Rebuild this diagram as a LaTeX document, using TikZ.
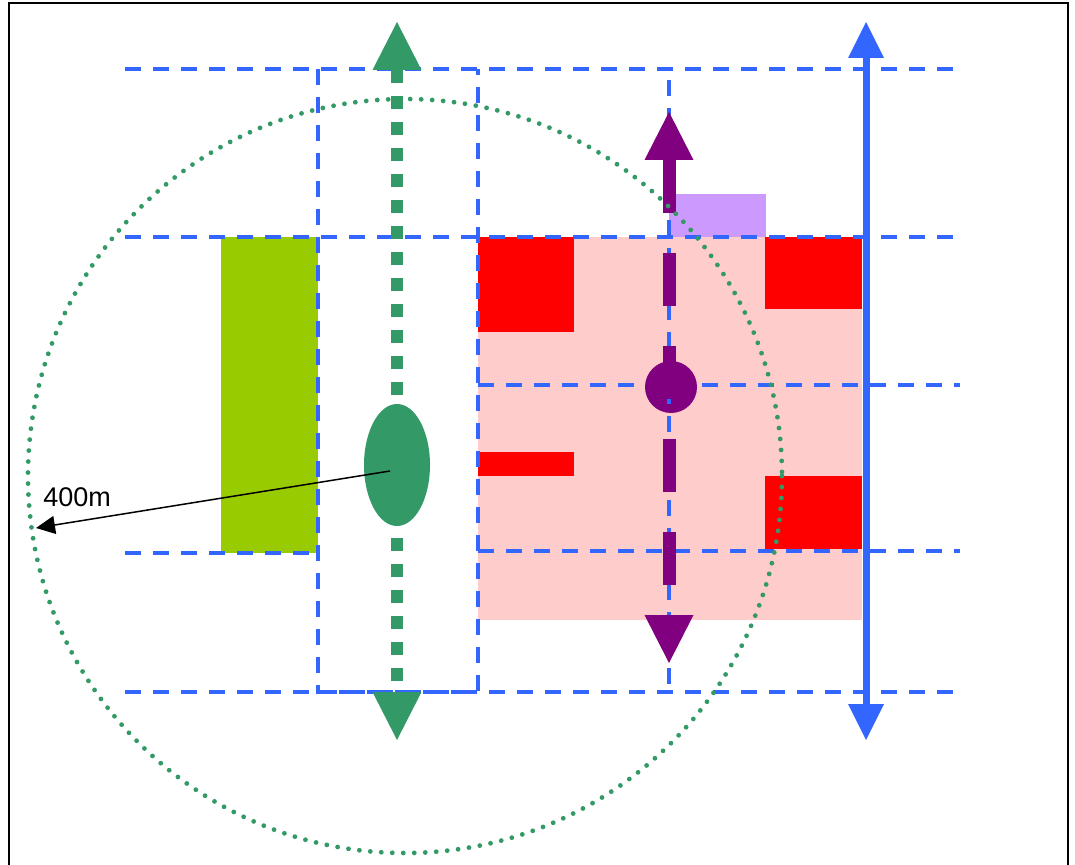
\documentclass[tikz,border=0pt]{standalone}
\usepackage{fontspec}
\setmainfont{Liberation Sans}
\usetikzlibrary{arrows.meta,positioning,shapes.geometric}
\definecolor{cGrid}{HTML}{3366FF}
\definecolor{cGreen}{HTML}{339966}
\definecolor{cPurple}{HTML}{800080}
\definecolor{cPink}{HTML}{FFCCCC}
\definecolor{cRed}{HTML}{FF0000}
\definecolor{cLilac}{HTML}{CC99FF}
\definecolor{cLime}{HTML}{99CC00}

\begin{document}
\begin{tikzpicture}[
    x=0.5pt, y=-0.5pt,
    font=\fontsize{13.5}{16}\selectfont,
    gridline/.style={cGrid, line width=1.8pt, dash pattern=on 8pt off 6pt},
]
\useasboundingbox (0,0) rectangle (1075,865);

% ---- frame ----
\draw[line width=1pt] (9,865) -- (9,3) -- (1068,3) -- (1068,865);

% ---- blocks ----
\fill[cLime] (221,237) rectangle (318,553);
\fill[cPink] (478,237) rectangle (862,620);
\fill[cRed] (478,237) rectangle (574,332);
\fill[cRed] (765,237) rectangle (862,309);
\fill[cRed] (478,452) rectangle (574,476);
\fill[cRed] (765,476) rectangle (862,549);
\fill[cLilac] (669,194) rectangle (766,237);

% ---- grid ----
\foreach \y in {69,237,692}{
  \draw[gridline] (125,\y) -- (955,\y);
}
\draw[gridline] (478,385) -- (960,385);
\draw[gridline] (478,551) -- (960,551);
\draw[gridline] (125,553) -- (318,553);
\draw[gridline] (318,69) -- (318,692) -- (478,692) -- (478,69);

% ---- purple route ----
\node[circle, fill=cPurple, minimum size=26pt, inner sep=0pt] (hub) at (671,387) {};
\draw[gridline] (669,80) -- (669,692);
\coordinate (pTop) at (669,112);
\coordinate (pBot) at (669,663);
\draw[cPurple, line width=6.5pt, dash pattern=on 26.5pt off 20pt,
      {Triangle[length=24pt, width=24.5pt, line width=0pt]}-{Triangle[length=24pt, width=24.5pt, line width=0pt]}]
      (pTop) -- (pBot);

% ---- green route ----
\node[ellipse, fill=cGreen, minimum width=33pt, minimum height=61pt,
      inner sep=0pt] (stop) at (397,465) {};
\coordinate (gTop) at (397,22);
\coordinate (gBot) at (397,740);
\draw[cGreen, line width=6pt, dash pattern=on 6.5pt off 6.5pt,
      {Triangle[length=24pt, width=24.5pt, line width=0pt]}-{Triangle[length=24pt, width=24.5pt, line width=0pt]}]
      (gTop) -- (gBot);

% ---- catchment ----
\draw[cGreen, line width=2.4pt, line cap=round, dash pattern=on 0pt off 5.5pt]
      (405,476) circle [radius=377];

% ---- blue route ----
\coordinate (bTop) at (866,22);
\coordinate (bBot) at (866,740);
\draw[cGrid, line width=3.5pt,
      {Triangle[length=18pt, width=18pt, line width=0pt]}-{Triangle[length=18pt, width=18pt, line width=0pt]}]
      (bTop) -- (bBot);

% ---- radius ----
\coordinate (from) at (390,471);
\coordinate (rim) at (36,528);
\draw[line width=0.75pt, -{Triangle[length=9.5pt, width=9pt]}] (from) -- (rim);
\node[anchor=base west, inner sep=0pt] (dist) at (43,507) {400m};

\end{tikzpicture}
\end{document}
